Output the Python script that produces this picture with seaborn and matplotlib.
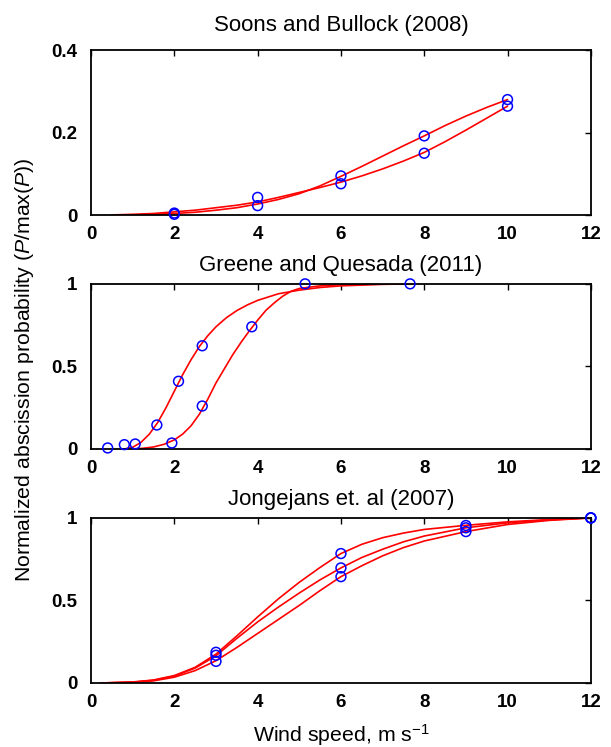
import numpy as np
import pandas as pd
import matplotlib
matplotlib.use("Agg")
import matplotlib.pyplot as plt
import seaborn as sns

# --- Soons and Bullock (2008) ---
sb_pts_x = [2, 2, 4, 4, 6, 6, 8, 8, 10, 10]
sb_pts_y = [0.005, 0.002, 0.043, 0.023, 0.095, 0.076, 0.192, 0.150, 0.280, 0.264]
sb_curve_x = [0.5, 1, 1.5, 2, 2.5, 3, 3.5, 4, 4.5, 5, 5.5, 6, 6.5, 7, 7.5, 8, 8.5, 9, 9.5, 10]
sb_curve_a = [0.0, 0.0005, 0.002, 0.004, 0.007, 0.012, 0.018, 0.027, 0.038, 0.052,
              0.071, 0.094, 0.118, 0.143, 0.168, 0.192, 0.217, 0.240, 0.261, 0.280]
sb_curve_b = [0.0005, 0.002, 0.004, 0.008, 0.012, 0.018, 0.024, 0.032, 0.043, 0.055,
              0.067, 0.080, 0.095, 0.112, 0.131, 0.152, 0.178, 0.206, 0.235, 0.264]

# --- Greene and Quesada (2011) ---
gq_pts_x = [0.4, 0.8, 1.06, 1.58, 2.1, 2.67, 1.94, 2.67, 3.86, 5.14, 7.66]
gq_pts_y = [0.006, 0.026, 0.03, 0.145, 0.41, 0.625, 0.036, 0.26, 0.74, 1.0, 1.0]
gq_left_x = [0.8, 1.0, 1.2, 1.4, 1.6, 1.8, 2.0, 2.2, 2.4, 2.6, 2.8, 3.0, 3.25, 3.5,
             3.75, 4.0, 4.5, 5.0, 5.5, 6.0, 7.0, 7.7]
gq_left_y = [0.0, 0.01, 0.04, 0.09, 0.16, 0.25, 0.35, 0.45, 0.54, 0.62, 0.685, 0.74,
             0.795, 0.838, 0.872, 0.90, 0.94, 0.962, 0.978, 0.988, 0.997, 1.0]
gq_right_x = [1.0, 1.25, 1.5, 1.75, 2.0, 2.2, 2.4, 2.6, 2.8, 3.0, 3.2, 3.4, 3.6,
              3.8, 4.0, 4.2, 4.4, 4.6, 4.8, 5.0, 5.5, 6.0, 7.0, 7.7]
gq_right_y = [0.0, 0.004, 0.012, 0.028, 0.055, 0.09, 0.14, 0.21, 0.30, 0.40, 0.485,
              0.57, 0.645, 0.715, 0.78, 0.84, 0.885, 0.925, 0.955, 0.972, 0.988, 0.995,
              0.999, 1.0]

# --- Jongejans et. al (2007) ---
jo_pts_x = [3, 3, 3, 6, 6, 6, 9, 9, 9, 12, 12, 12]
jo_pts_y = [0.186, 0.168, 0.131, 0.784, 0.697, 0.644, 0.954, 0.94, 0.917, 1.0, 1.0, 1.0]
jo_curve_x = [0.25, 1, 1.5, 2, 2.5, 3, 3.5, 4, 4.5, 5, 5.5, 6, 6.5, 7, 7.5, 8, 9, 10, 11, 12]
jo_top = [0.0, 0.006, 0.018, 0.045, 0.095, 0.175, 0.285, 0.40, 0.51, 0.61, 0.70,
          0.784, 0.84, 0.88, 0.908, 0.93, 0.955, 0.976, 0.99, 1.0]
jo_mid = [0.0, 0.005, 0.016, 0.042, 0.09, 0.165, 0.27, 0.37, 0.46, 0.545, 0.625,
          0.697, 0.76, 0.81, 0.855, 0.89, 0.94, 0.97, 0.988, 1.0]
jo_low = [0.0, 0.004, 0.013, 0.035, 0.075, 0.135, 0.215, 0.30, 0.385, 0.47, 0.56,
          0.644, 0.71, 0.77, 0.82, 0.86, 0.917, 0.96, 0.985, 1.0]

titles = ["Soons and Bullock (2008)", "Greene and Quesada (2011)", "Jongejans et. al (2007)"]
title_pads = [14, 9, 9]

sns.set_style("white")
plt.rcParams["font.family"] = ["Liberation Sans", "DejaVu Sans"]
plt.rcParams["mathtext.fontset"] = "custom"
plt.rcParams["mathtext.rm"] = "Liberation Sans"
plt.rcParams["mathtext.it"] = "Liberation Sans:italic"
plt.rcParams["text.color"] = "black"
plt.rcParams["axes.labelcolor"] = "black"
plt.rcParams["xtick.color"] = "black"
plt.rcParams["ytick.color"] = "black"

fig = plt.figure(figsize=(6.11, 7.47), dpi=100)
left, width = 0.149, 0.818
bottoms = [0.712, 0.399, 0.0857]
height = 0.221
axs = [fig.add_axes([left, b, width, height]) for b in bottoms]

curves = [
    [(sb_curve_x, sb_curve_a), (sb_curve_x, sb_curve_b)],
    [(gq_left_x, gq_left_y), (gq_right_x, gq_right_y)],
    [(jo_curve_x, jo_top), (jo_curve_x, jo_mid), (jo_curve_x, jo_low)],
]
points = [(sb_pts_x, sb_pts_y), (gq_pts_x, gq_pts_y), (jo_pts_x, jo_pts_y)]
ylims = [(0, 0.4), (0, 1), (0, 1)]
yticks = [[0, 0.2, 0.4], [0, 0.5, 1], [0, 0.5, 1]]
yticklabels = [["0", "0.2", "0.4"], ["0", "0.5", "1"], ["0", "0.5", "1"]]

for i, ax in enumerate(axs):
    for cx, cy in curves[i]:
        df = pd.DataFrame({"x": cx, "y": cy})
        sns.lineplot(data=df, x="x", y="y", ax=ax, color="red", lw=1.2,
                     sort=False, estimator=None)
    px, py = points[i]
    sns.scatterplot(x=px, y=py, ax=ax, marker="o", s=50, facecolors="none",
                    edgecolors="blue", linewidth=1.1, zorder=3, clip_on=False)
    ax.set_xlim(0, 12)
    ax.set_ylim(*ylims[i])
    ax.set_xticks(range(0, 13, 2))
    ax.set_xticklabels([str(v) for v in range(0, 13, 2)], fontweight="bold", fontsize=13.5)
    ax.set_yticks(yticks[i])
    ax.set_yticklabels(yticklabels[i], fontweight="bold", fontsize=13.5)
    ax.tick_params(axis="x", direction="in", top=True, length=4, width=1, pad=8)
    ax.tick_params(axis="y", direction="in", right=True, length=4, width=1, pad=10)
    for s in ax.spines.values():
        s.set_linewidth(1.3)
        s.set_color("black")
    ax.set_xlabel("")
    ax.set_ylabel("")
    ax.set_title(titles[i], fontsize=16, pad=title_pads[i])

axs[2].set_xlabel("Wind speed, m s$^{-1}$", fontsize=15.3, labelpad=8)
fig.text(0.04, 0.505, r"Normalized abscission probability ($\mathit{P}$/max($\mathit{P}$))",
         rotation=90, ha="center", va="center", fontsize=15.3)

fig.savefig("out.png", dpi=100)
